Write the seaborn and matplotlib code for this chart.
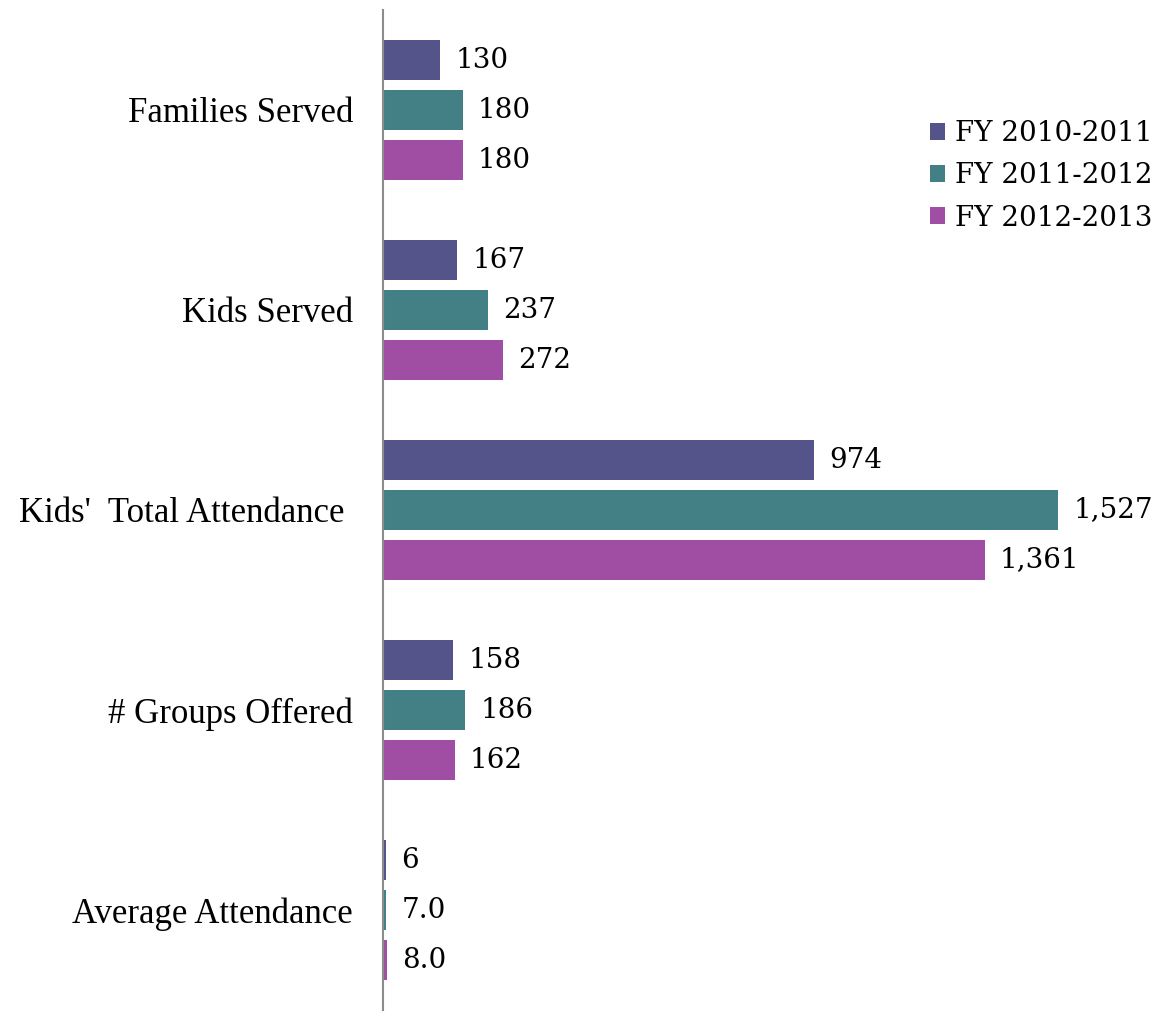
import seaborn as sns
import matplotlib.pyplot as plt
import pandas as pd

categories = ["Families Served", "Kids Served", "Kids'  Total Attendance ",
              "# Groups Offered", "Average Attendance"]
years = ["FY 2010-2011", "FY 2011-2012", "FY 2012-2013"]
fy_2010 = [130, 167, 974, 158, 6]
fy_2011 = [180, 237, 1527, 186, 7.0]
fy_2012 = [180, 272, 1361, 162, 8.0]
labels_2010 = ["130", "167", "974", "158", "6"]
labels_2011 = ["180", "237", "1,527", "186", "7.0"]
labels_2012 = ["180", "272", "1,361", "162", "8.0"]
colors = ["#54548a", "#428086", "#a04ea3"]

rows = []
for year, vals in zip(years, [fy_2010, fy_2011, fy_2012]):
    for cat, v in zip(categories, vals):
        rows.append({"category": cat, "year": year, "value": v})
df = pd.DataFrame(rows)

sns.set_style("white")
fig = plt.figure(figsize=(11.72, 10.16), dpi=100)
ax = fig.add_axes([383 / 1172, 6 / 1016, 1 - 383 / 1172, 1000 / 1016])

sns.barplot(data=df, y="category", x="value", hue="year", orient="h",
            palette=colors, width=0.75, gap=0.2, ax=ax, saturation=1,
            edgecolor="none")

# value labels next to each bar
for cont, labs in zip(ax.containers, [labels_2010, labels_2011, labels_2012]):
    ax.bar_label(cont, labels=labs, padding=11, fontsize=20,
                 family="DejaVu Serif", color="black")

ax.set_xlim(0, (1172 - 383) / 0.442)
ax.set_ylim(4.5, -0.5)
ax.set_xlabel("")
ax.set_ylabel("")
ax.set_xticks([])
ax.tick_params(axis="y", length=0, pad=21.5)
for t in ax.get_yticklabels():
    t.set_fontfamily("Liberation Serif")
    t.set_fontsize(25)
    t.set_color("black")
for s in ["top", "right", "bottom"]:
    ax.spines[s].set_visible(False)
ax.spines["left"].set_color("#8c8c8c")
ax.spines["left"].set_linewidth(1.5)

leg = ax.legend(loc="upper right", bbox_to_anchor=(1.007, 0.915), frameon=False,
                prop={"family": "DejaVu Serif", "size": 20},
                handlelength=0.55, handleheight=0.55, handletextpad=0.35,
                labelspacing=0.55)
for txt in leg.get_texts():
    txt.set_color("black")

fig.savefig("out.png", dpi=100)
